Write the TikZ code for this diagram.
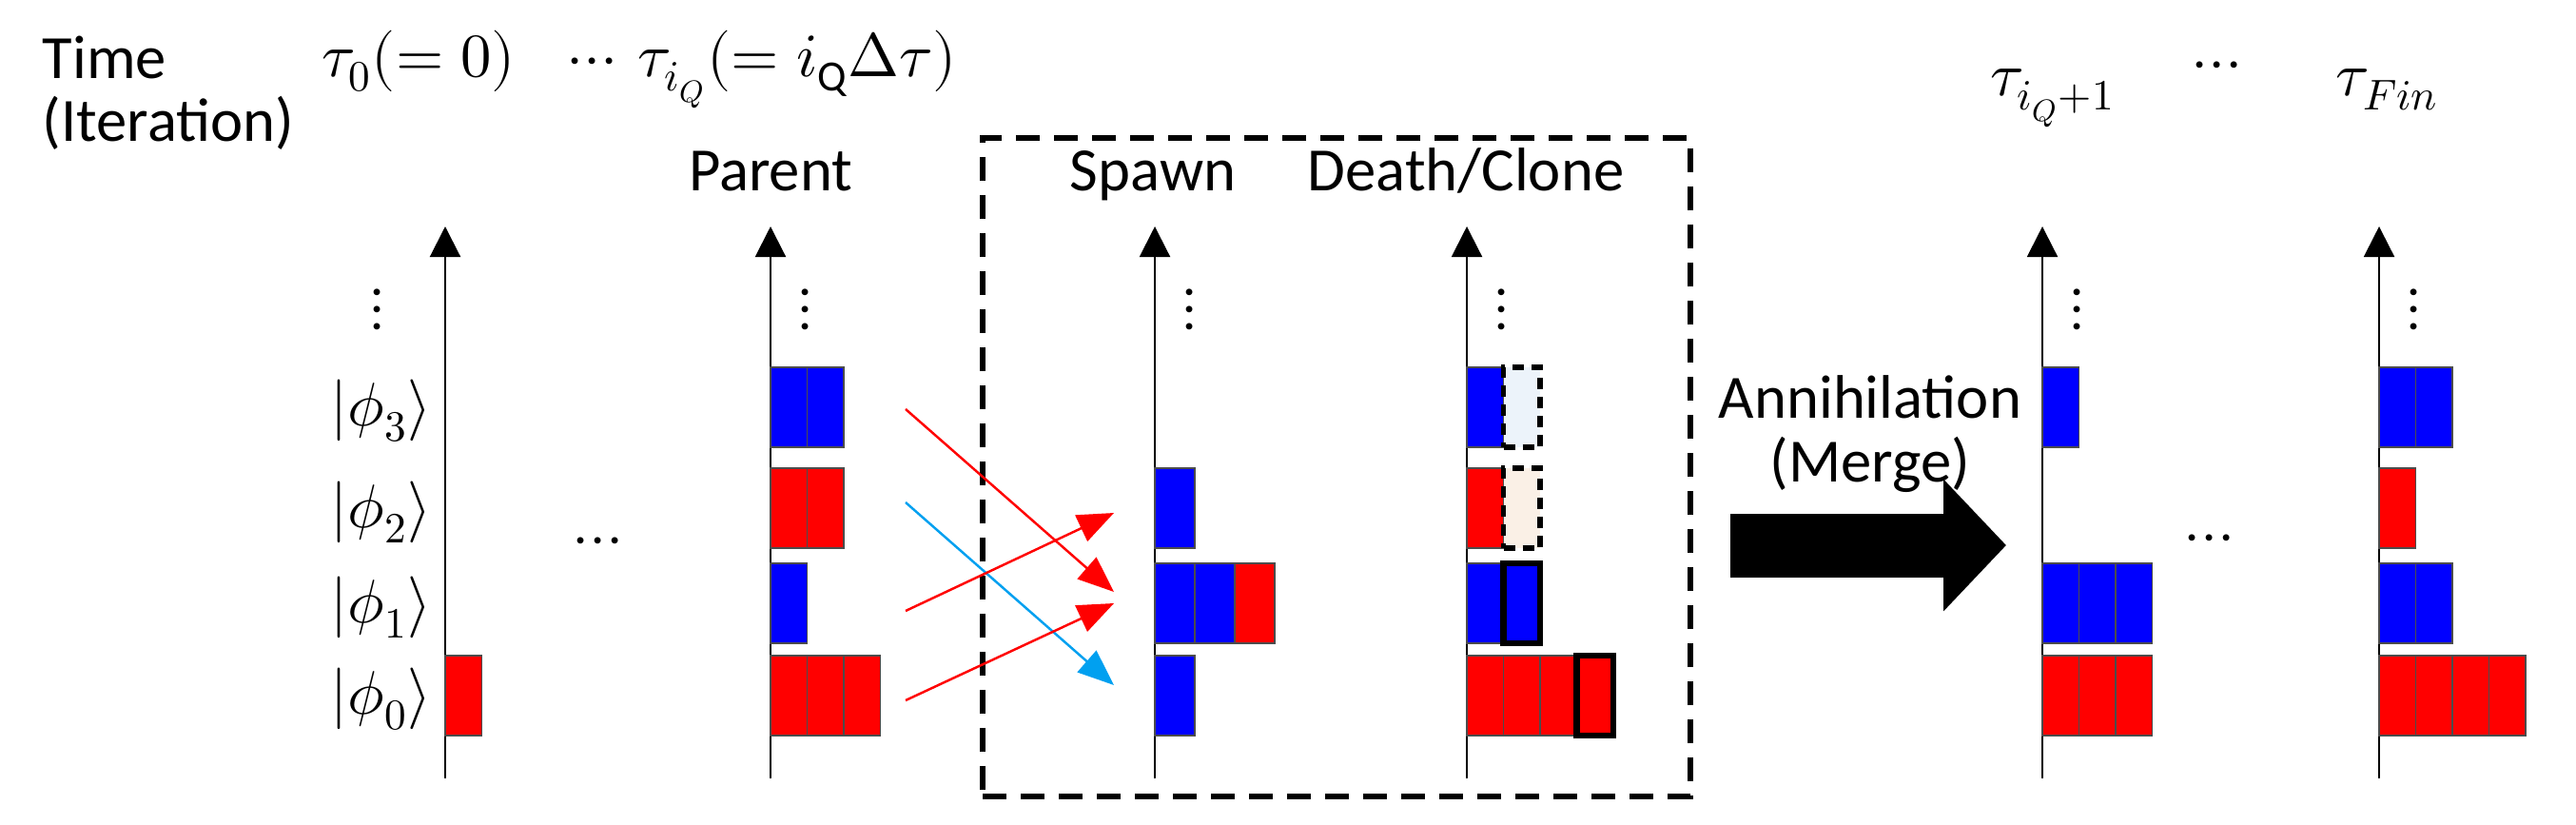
\documentclass[tikz,border=0pt]{standalone}
\usepackage{fontspec}
\usepackage{unicode-math}
\setmainfont{Carlito}
\usetikzlibrary{
    positioning,
    calc,
    arrows.meta
}
\definecolor{qblue}{RGB}{0,0,255}
\definecolor{qred}{RGB}{255,0,0}
\definecolor{qsky}{RGB}{0,160,240}
\definecolor{ghostblue}{RGB}{236,243,250}
\definecolor{ghostpeach}{RGB}{250,240,230}
\newcommand{\cw}{0.385}
\tikzset{
  txt/.style = {
      font=\fontsize{18.4}{19}\selectfont,
      inner sep=0pt
  },
  cell/.style = {
      rectangle,
      anchor=west,
      draw=black!70,
      line width=0.4pt,
      minimum width=0.385cm,
      minimum height=0.84cm,
      inner sep=0pt,
      outer sep=0pt
  },
  bcell/.style = {
      cell,
      fill=qblue
  },
  rcell/.style = {
      cell,
      fill=qred
  },
  wide/.style = {
      minimum width=0.42cm
  },
  ghost/.style = {
      cell,
      draw=black,
      line width=1.6pt,
      dash pattern=on 0.12cm off 0.08cm
  },
  clone/.style = {
      cell,
      draw=black,
      line width=1.8pt
  },
  axis/.style = {
      line width=0.6pt,
      -{Triangle[length=0.32cm,width=0.32cm]}
  },
  spawn/.style = {
      line width=0.7pt,
      -{Triangle[length=0.38cm,width=0.3cm]}
  },
  merge/.style = {
      line width=0.67cm,
      -{Triangle[length=0.66cm,width=1.35cm]}
  },
  dashbox/.style = {
      draw,
      line width=1.6pt,
      dash pattern=on 0.25cm off 0.15cm,
      inner sep=0pt
  }
}

\begin{document}
\begin{tikzpicture}
    \useasboundingbox (0,0) rectangle (27.08,-8.66);
    % Label
    \node[txt, anchor=north west, align=left] (time) at (0.44,-0.37) {Time\\(Iteration)};
    \node[txt, anchor=base] (tau0) at (4.40,-0.80) {$\tau_0(=0)$};
    \node[txt, anchor=base] (hdotsL) at (6.23,-0.80) {$\cdots$};
    \node[txt, anchor=base west] (tauQ) at (6.70,-0.80) {$\tau_{i_Q}(=i_{\mathrm{Q}}\Delta\tau)$};
    \node[txt, anchor=base west] (tauQn) at (20.92,-1.0) {$\tau_{i_Q+1}$};
    \node[txt, anchor=base] (hdotsR) at (23.31,-0.84) {$\cdots$};
    \node[txt, anchor=base west] (tauF) at (24.55,-1.0) {$\tau_{Fin}$};
    \node[txt, anchor=base] (parent) at (8.10,-2.0) {Parent};
    \node[txt, anchor=base] (spawnlbl) at (12.12,-2.0) {Spawn};
    \node[txt, anchor=base] (death) at (15.41,-2.0) {Death/Clone};
    % Box
    \node[dashbox, minimum width=7.44cm, minimum height=6.92cm] (evolve) at (14.05,-4.91) {};
    % Axes
    \foreach \n/\x in {0/4.68, 1/8.10, 2/12.14, 3/15.42, 4/21.47, 5/25.01} {
        \coordinate (bot\n) at (\x,-8.18);
        \coordinate (top\n) at (\x,-2.38);
        \draw[axis] (bot\n) -- (top\n);
    }
    \node[txt] (vd0) at (3.97,-3.25) {$\vdots$};
    \foreach \n/\x in {1/8.10, 2/12.14, 3/15.42, 4/21.47, 5/25.01}
        \node[txt] (vd\n) at (\x+0.37,-3.25) {$\vdots$};
    % States
    \node[txt] (ket3) at (4.01,-4.32) {$|\phi_3\rangle$};
    \node[txt] (ket2) at (4.01,-5.38) {$|\phi_2\rangle$};
    \node[txt] (ket1) at (4.01,-6.38) {$|\phi_1\rangle$};
    \node[txt] (ket0) at (4.01,-7.35) {$|\phi_0\rangle$};
    \node[txt] (mdotsL) at (6.29,-5.75) {$\cdots$};
    \node[txt] (mdotsR) at (23.23,-5.72) {$\cdots$};
    % Walkers at tau_0
    \node[rcell] (z0a) at (4.68,-7.31) {};
    % Parent
    \foreach \k in {0,1} \node[bcell] (p3\k) at (8.10+\k*\cw,-4.28) {};
    \foreach \k in {0,1} \node[rcell] (p2\k) at (8.10+\k*\cw,-5.34) {};
    \node[bcell] (p10) at (8.10,-6.34) {};
    \foreach \k in {0,1,2} \node[rcell] (p0\k) at (8.10+\k*\cw,-7.31) {};
    % Spawn
    \node[bcell, wide] (s20) at (12.14,-5.34) {};
    \node[bcell, wide] (s10) at (12.14,-6.34) {};
    \node[bcell, wide, right=0pt of s10] (s11) {};
    \node[rcell, wide, right=0pt of s11] (s12) {};
    \node[bcell, wide] (s00) at (12.14,-7.31) {};
    % Death/Clone
    \node[bcell] (d30) at (15.42,-4.28) {};
    \node[ghost, fill=ghostblue, right=0pt of d30] (d31) {};
    \node[rcell] (d20) at (15.42,-5.34) {};
    \node[ghost, fill=ghostpeach, right=0pt of d20] (d21) {};
    \node[bcell] (d10) at (15.42,-6.34) {};
    \node[clone, fill=qblue, right=0pt of d10] (d11) {};
    \foreach \k in {0,1,2} \node[rcell] (d0\k) at (15.42+\k*\cw,-7.31) {};
    \node[clone, fill=qred, right=0pt of d02] (d03) {};
    % tau_{i_Q+1}
    \node[bcell] (n30) at (21.47,-4.28) {};
    \foreach \k in {0,1,2} \node[bcell] (n1\k) at (21.47+\k*\cw,-6.34) {};
    \foreach \k in {0,1,2} \node[rcell] (n0\k) at (21.47+\k*\cw,-7.31) {};
    % tau_Fin
    \foreach \k in {0,1} \node[bcell] (f3\k) at (25.01+\k*\cw,-4.28) {};
    \node[rcell] (f20) at (25.01,-5.34) {};
    \foreach \k in {0,1} \node[bcell] (f1\k) at (25.01+\k*\cw,-6.34) {};
    \foreach \k in {0,1,2,3} \node[rcell] (f0\k) at (25.01+\k*\cw,-7.31) {};
    % Spawning
    \coordinate (src3) at (9.52,-4.30);
    \coordinate (src2) at (9.52,-5.28);
    \coordinate (src1) at (9.52,-6.42);
    \coordinate (src0) at (9.52,-7.36);
    \coordinate (dst2) at (11.71,-5.39);
    \coordinate (dst1u) at (11.71,-6.22);
    \coordinate (dst1l) at (11.71,-6.34);
    \coordinate (dst0) at (11.71,-7.20);
    \draw[spawn, qred] (src3) -- (dst1u);
    \draw[spawn, qsky] (src2) -- (dst0);
    \draw[spawn, qred] (src1) -- (dst2);
    \draw[spawn, qred] (src0) -- (dst1l);
    % Annihilation
    \node[txt, align=center] (annih) at (19.66,-4.56) {Annihilation\\(Merge)};
    \coordinate (mergeA) at (18.19,-5.73);
    \coordinate (mergeB) at (21.09,-5.73);
    \draw[merge] (mergeA) -- (mergeB);
\end{tikzpicture}
\end{document}
